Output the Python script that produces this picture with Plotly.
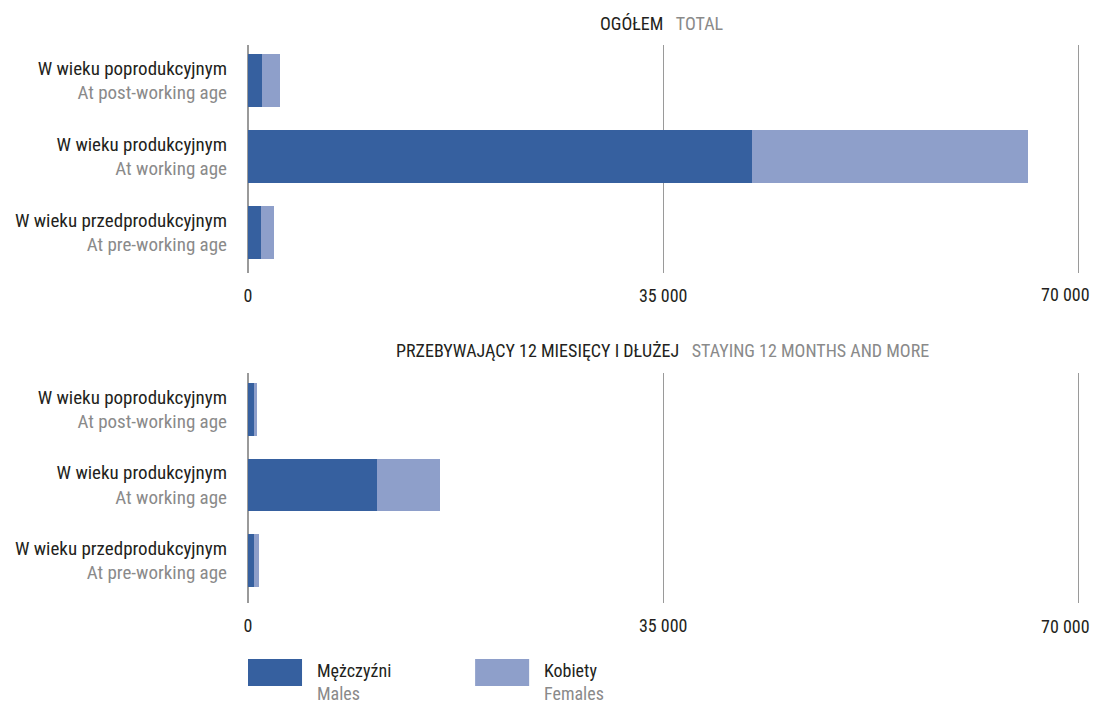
import plotly.graph_objects as go

# ---- data ----
categories_pl = ["W wieku poprodukcyjnym", "W wieku produkcyjnym", "W wieku przedprodukcyjnym"]
categories_en = ["At post-working age", "At working age", "At pre-working age"]

total_males = [1180, 42500, 1100]
total_females = [1520, 23280, 1100]

long_males = [510, 10880, 510]
long_females = [250, 5310, 420]

tick_vals = [0, 35000, 70000]
tick_text = ["0", "35 000", "70 000"]

series_names_pl = ["Mężczyźni", "Kobiety"]
series_names_en = ["Males", "Females"]

title_top = ("OGÓŁEM", "TOTAL")
title_bottom = ("PRZEBYWAJĄCY 12 MIESIĘCY I DŁUŻEJ", "STAYING 12 MONTHS AND MORE")

# ---- style ----
C_M = "#36609F"
C_F = "#8E9FCA"
GREY = "#8a8a8a"
DARK = "#231f20"
FONT = "Roboto Condensed, Liberation Sans Narrow, sans-serif"
FS_CAT = 19
FS = 18

# page has an 8px body margin; figure coordinates = page coordinates - 8
OFF = 8
W, H = 1103 - OFF, 703 - OFF

X0_PAGE, X70_PAGE = 248, 1078          # pixel positions of 0 and 70 000
XMAX = 70300                            # small headroom so the 70 000 gridline is drawn
X_END_PAGE = X0_PAGE + (X70_PAGE - X0_PAGE) * XMAX / 70000


def py(p):
    return 1 - (p - OFF) / H


def px(p):
    # paper x is relative to the plot area
    return (p - X0_PAGE) / (X_END_PAGE - X0_PAGE)


labels = [f"{pl}<br><span style='color:{GREY}'>{en}</span>" for pl, en in zip(categories_pl, categories_en)]
# the last tick label is drawn separately, right-aligned so it stays inside the page (as in the reference)
tick_text_shown = tick_text[:-1] + [""]

fig = go.Figure()

for xa, ya, m, f in [("x", "y", total_males, total_females), ("x2", "y2", long_males, long_females)]:
    fig.add_trace(go.Bar(y=labels, x=m, orientation="h", marker=dict(color=C_M, line=dict(width=0)),
                         xaxis=xa, yaxis=ya, width=0.7, showlegend=False, name=series_names_pl[0]))
    fig.add_trace(go.Bar(y=labels, x=f, orientation="h", marker=dict(color=C_F, line=dict(width=0)),
                         xaxis=xa, yaxis=ya, width=0.7, showlegend=False, name=series_names_pl[1]))

xaxis_common = dict(range=[0, XMAX], tickvals=tick_vals, ticktext=tick_text_shown, showgrid=True,
                    gridcolor="#9a9a9a", gridwidth=1, zeroline=True, zerolinecolor="#9a9a9a",
                    zerolinewidth=2, showline=False, ticks="", domain=[0, 1], automargin=False,
                    tickfont=dict(family=FONT, size=FS, color=DARK), ticklabelstandoff=10,
                    ticklabeloverflow="allow", fixedrange=True)
yaxis_common = dict(showgrid=False, zeroline=False, showline=False, ticks="", automargin=False,
                    tickfont=dict(family=FONT, size=FS_CAT, color=DARK), ticklabelstandoff=20,
                    type="category", fixedrange=True)

fig.update_layout(
    width=W, height=H,
    margin=dict(l=X0_PAGE - OFF, r=W - (X_END_PAGE - OFF), t=0, b=0, pad=0),
    paper_bgcolor="white", plot_bgcolor="white",
    barmode="stack", bargap=0.3,
    font=dict(family=FONT, size=FS, color=DARK),
    xaxis=dict(**xaxis_common, anchor="y"),
    xaxis2=dict(**xaxis_common, anchor="y2"),
    yaxis=dict(**yaxis_common, domain=[py(273), py(45)], range=[2.533, -0.467], anchor="x"),
    yaxis2=dict(**yaxis_common, domain=[py(603), py(373)], range=[2.563, -0.483], anchor="x2"),
)

# last x tick label of each panel
for xr, ypx in [("x", 295), ("x2", 626)]:
    fig.add_annotation(xref=xr, yref="paper", x=tick_vals[-1], y=py(ypx), showarrow=False,
                       xanchor="right", yanchor="middle", xshift=14, text=tick_text[-1],
                       font=dict(family=FONT, size=FS, color=DARK))

# titles
for (pl, en), ypx in [(title_top, 24), (title_bottom, 350)]:
    fig.add_annotation(xref="paper", yref="paper", x=px(662), y=py(ypx), showarrow=False,
                       xanchor="center", yanchor="middle",
                       text=f"{pl}&nbsp;&nbsp;&nbsp;<span style='color:{GREY}'>{en}</span>",
                       font=dict(family=FONT, size=FS, color=DARK))

# legend
for (x0, x1, tx), pl, en, col in zip([(248, 302, 315), (475, 529, 542)], series_names_pl, series_names_en, [C_M, C_F]):
    fig.add_shape(type="rect", xref="paper", yref="paper", x0=px(x0), x1=px(x1), y0=py(686), y1=py(659),
                  fillcolor=col, line=dict(width=0))
    fig.add_annotation(xref="paper", yref="paper", x=px(tx), y=py(682), showarrow=False,
                       xanchor="left", yanchor="middle", align="left",
                       text=f"{pl}<br><span style='color:{GREY}'>{en}</span>",
                       font=dict(family=FONT, size=FS, color=DARK))

fig.write_html("out.html")
